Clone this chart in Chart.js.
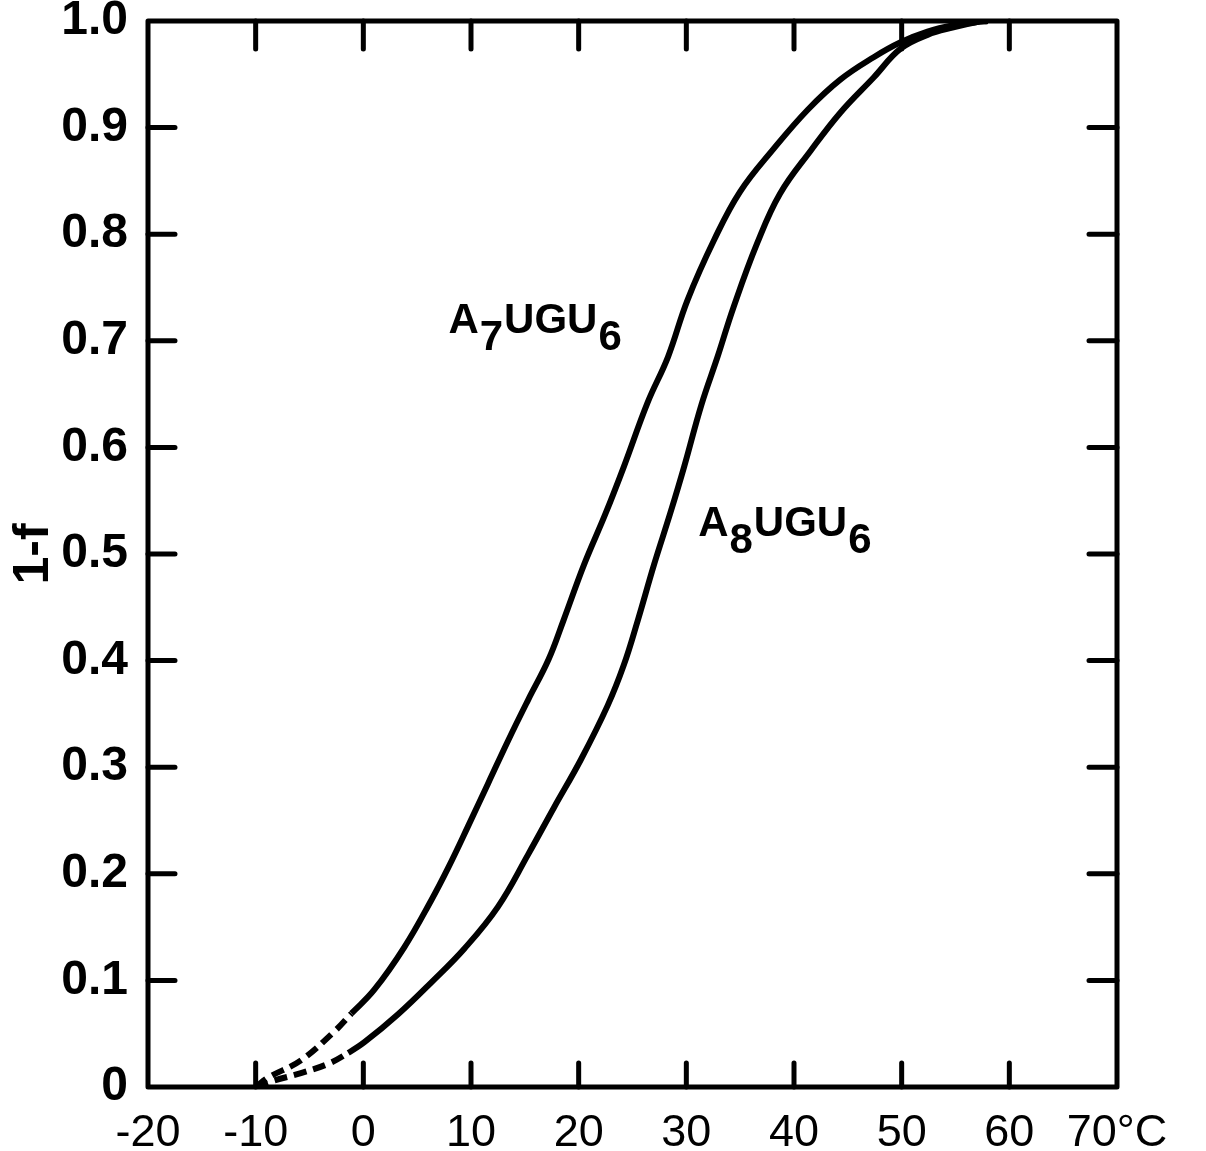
<!DOCTYPE html>
<html lang="en">

<head>
    <meta charset="UTF-8">
    <title>1-f vs temperature</title>
    <style>
        html, body { margin: 0; padding: 0; background: #fff; }
        #wrap { width: 1206px; height: 1151px; }
    </style>
</head>

<body>

    <div id="wrap">
        <canvas id="myChart"></canvas>
    </div>

    <script src="https://cdn.jsdelivr.net/npm/chart.js"></script>
    <script>
        // A7UGU6 curve (left one)
        const tempA7 = [-10, -8.8, -5.8, -2.7, -1.1, 1.0, 3.8, 6.3, 7.9, 9.7, 11.6, 13.5, 15.3, 17.2, 18.6, 20.5, 22.5, 24.2, 26.4, 28.3, 30.1, 32.6, 35.0, 38.1, 41.3, 44.3, 47.4, 49.9, 52.4, 54.8, 57.0, 58.0];
        const fracA7 = [0, 0.009, 0.025, 0.052, 0.069, 0.091, 0.131, 0.175, 0.206, 0.244, 0.285, 0.326, 0.363, 0.401, 0.438, 0.490, 0.538, 0.582, 0.642, 0.685, 0.738, 0.795, 0.840, 0.880, 0.917, 0.945, 0.966, 0.980, 0.990, 0.996, 0.999, 1.0];

        // A8UGU6 curve (right one)
        const tempA8 = [-10, -8.3, -5.8, -3.2, -1.4, 0.1, 3.2, 6.3, 9.4, 12.5, 15.3, 17.7, 20.2, 22.7, 24.2, 25.5, 27.0, 28.5, 29.8, 31.4, 32.9, 34.4, 36.6, 38.7, 41.6, 44.3, 47.4, 49.9, 52.4, 54.8, 57.0, 58.0];
        const fracA8 = [0, 0.006, 0.013, 0.022, 0.032, 0.042, 0.068, 0.098, 0.130, 0.169, 0.218, 0.262, 0.307, 0.358, 0.396, 0.438, 0.490, 0.538, 0.582, 0.640, 0.685, 0.732, 0.792, 0.838, 0.879, 0.914, 0.947, 0.974, 0.987, 0.994, 0.999, 1.0];

        // where the dashed (extrapolated) part ends
        const dashEndA7 = -1.1;
        const dashEndA8 = -1.4;

        const xTicks = [-20, -10, 0, 10, 20, 30, 40, 50, 60, 70];
        const yTicks = [0, 0.1, 0.2, 0.3, 0.4, 0.5, 0.6, 0.7, 0.8, 0.9, 1.0];

        function f_points(xs, ys) {
            let v_pts = [];
            for (let i = 0; i < xs.length; i++) {
                v_pts.push({ x: xs[i], y: ys[i] });
            }
            return v_pts;
        }

        function f_dash(dashEnd) {
            return ctx => ctx.p1.parsed.x <= dashEnd + 0.01 ? [13, 7] : undefined;
        }

        // box all round, ticks pointing inward on the four sides
        const frameTicks = {
            id: 'frameTicks',
            afterDatasetsDraw(chart) {
                const { ctx, chartArea: { left, right, top, bottom }, scales: { x, y } } = chart;
                ctx.save();
                ctx.strokeStyle = '#000';
                ctx.lineWidth = 5;
                ctx.lineCap = 'round';
                ctx.lineJoin = 'round';
                ctx.strokeRect(left, top, right - left, bottom - top);
                ctx.beginPath();
                xTicks.forEach(v => {
                    if (v == xTicks[0] || v == xTicks[xTicks.length - 1]) return;
                    const px = x.getPixelForValue(v);
                    ctx.moveTo(px, bottom); ctx.lineTo(px, bottom - 24);
                    ctx.moveTo(px, top); ctx.lineTo(px, top + 28);
                });
                yTicks.forEach(v => {
                    if (v == yTicks[0] || v == yTicks[yTicks.length - 1]) return;
                    const py = y.getPixelForValue(v);
                    ctx.moveTo(left, py); ctx.lineTo(left + 27, py);
                    ctx.moveTo(right, py); ctx.lineTo(right - 28, py);
                });
                ctx.stroke();
                ctx.restore();
            }
        };

        // curve names with subscripts
        const curveNames = [
            { parts: [['A', 0], ['7', 1], ['UGU', 0], ['6', 1]], at: [7.9, 0.718] },
            { parts: [['A', 0], ['8', 1], ['UGU', 0], ['6', 1]], at: [31.1, 0.528] }
        ];
        const nameLabels = {
            id: 'nameLabels',
            afterDraw(chart) {
                const { ctx, scales: { x, y } } = chart;
                ctx.save();
                ctx.fillStyle = '#000';
                ctx.font = "bold 42px 'Liberation Sans', Arial, sans-serif";
                ctx.textBaseline = 'middle';
                curveNames.forEach(n => {
                    let px = x.getPixelForValue(n.at[0]);
                    const py = y.getPixelForValue(n.at[1]);
                    n.parts.forEach(p => {
                        ctx.fillText(p[0], px, py + (p[1] ? 17 : 0));
                        px += ctx.measureText(p[0]).width + 1;
                    });
                });
                ctx.restore();
            }
        };

        const ctx = document.getElementById("myChart");

        let v_chart = new Chart(ctx, {
            type: 'line',
            data: {
                datasets: [{
                    label: 'A7UGU6',
                    data: f_points(tempA7, fracA7),
                    borderColor: '#000',
                    borderWidth: 6,
                    pointRadius: 0,
                    tension: 0.4,
                    segment: { borderDash: f_dash(dashEndA7) }
                }, {
                    label: 'A8UGU6',
                    data: f_points(tempA8, fracA8),
                    borderColor: '#000',
                    borderWidth: 6,
                    pointRadius: 0,
                    tension: 0.4,
                    segment: { borderDash: f_dash(dashEndA8) }
                }]
            },
            options: {
                responsive: true,
                maintainAspectRatio: false,
                animation: false,
                layout: { padding: { top: 21, right: 89, left: 0, bottom: 0 } },
                plugins: {
                    legend: { display: false },
                    tooltip: { enabled: false }
                },
                scales: {
                    x: {
                        type: 'linear',
                        min: -20,
                        max: 70,
                        afterBuildTicks: s => { s.ticks = xTicks.map(v => ({ value: v })); },
                        afterFit: s => { s.height = 64; s.paddingLeft = 0; s.paddingRight = 0; },
                        grid: { display: false, drawTicks: false },
                        border: { display: false },
                        ticks: {
                            color: '#000',
                            padding: 20,
                            maxRotation: 0,
                            autoSkip: false,
                            font: { family: "'Liberation Sans', Arial, sans-serif", size: 45 },
                            callback: v => v == 70 ? '70°C' : String(v)
                        }
                    },
                    y: {
                        min: 0,
                        max: 1,
                        afterBuildTicks: s => { s.ticks = yTicks.map(v => ({ value: v })); },
                        afterFit: s => { s.width = 148; s.paddingTop = 0; s.paddingBottom = 0; },
                        grid: { display: false, drawTicks: false },
                        border: { display: false },
                        title: {
                            display: true,
                            text: '1-f',
                            color: '#000',
                            padding: { top: 4, bottom: 0 },
                            font: { family: "'Liberation Sans', Arial, sans-serif", size: 50, weight: 'bold' }
                        },
                        ticks: {
                            color: '#000',
                            padding: 20,
                            autoSkip: false,
                            font: { family: "'Liberation Sans', Arial, sans-serif", size: 48, weight: 'bold' },
                            callback: v => v == 0 ? '0' : (Math.round(v * 10) / 10).toFixed(1)
                        }
                    }
                }
            },
            plugins: [frameTicks, nameLabels]
        });
    </script>
</body>

</html>
